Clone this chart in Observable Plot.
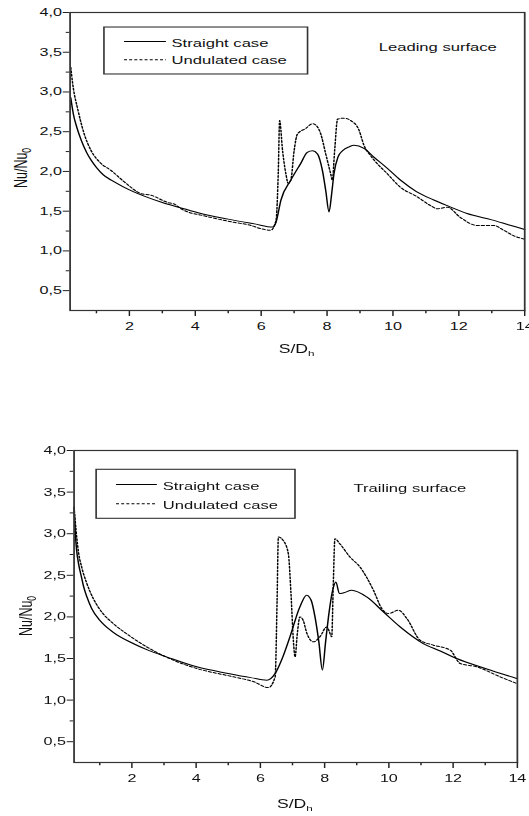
<!DOCTYPE html>
<html>
<head>
<meta charset="utf-8">
<script src="https://cdn.jsdelivr.net/npm/d3@7"></script>
<script src="https://cdn.jsdelivr.net/npm/@observablehq/plot@0.6"></script>
<style>
  html, body { margin: 0; padding: 0; background: #fff; overflow: hidden; }
  #wrap { position: relative; width: 360px; height: 816px; transform: scaleX(1.4694); transform-origin: 0 0; }
  #topPanel, #botPanel { position: absolute; left: 0; }
  #topPanel { top: 0; }
  #botPanel { top: 380px; }
  svg { overflow: visible; }
</style>
</head>
<body>
<div id="wrap"><div id="topPanel"></div><div id="botPanel"></div></div>
<script>
// ---- Leading surface (top panel) ----
const leadStraightX = [0.22,0.3,0.4,0.54,0.7,0.84,1.0,1.2,1.45,1.8,2.1,2.45,3.0,3.5,4.17,5.0,5.8,6.35,6.45,6.6,6.9,7.2,7.4,7.56,7.71,7.86,7.96,8.06,8.14,8.21,8.33,8.47,8.67,8.82,9.12,9.42,9.8,10.23,10.7,11.24,11.7,12.25,13.0,13.5,14.0];
const leadStraightY = [2.93,2.72,2.56,2.39,2.24,2.14,2.05,1.96,1.89,1.81,1.75,1.69,1.61,1.55,1.47,1.40,1.34,1.30,1.36,1.64,1.89,2.10,2.24,2.26,2.22,2.01,1.76,1.49,1.72,1.97,2.18,2.26,2.31,2.33,2.29,2.18,2.05,1.89,1.75,1.64,1.56,1.47,1.39,1.33,1.27];
const leadUndX = [0.22,0.28,0.44,0.63,0.84,1.14,1.45,1.84,2.36,2.66,3.16,3.36,3.57,3.77,4.17,4.7,5.17,5.69,5.99,6.29,6.45,6.52,6.56,6.65,6.75,6.82,6.9,7.0,7.1,7.35,7.56,7.71,7.81,7.96,8.11,8.16,8.23,8.32,8.52,8.72,8.97,9.12,9.32,9.83,10.23,10.74,11.14,11.35,11.65,12.05,12.56,13.06,13.36,13.67,13.97];
const leadUndY = [3.31,3.10,2.77,2.47,2.26,2.10,2.01,1.87,1.72,1.70,1.61,1.59,1.53,1.49,1.45,1.40,1.36,1.32,1.28,1.26,1.38,2.0,2.64,2.26,1.97,1.85,1.89,2.26,2.47,2.54,2.60,2.56,2.47,2.22,1.97,1.89,2.26,2.66,2.67,2.64,2.52,2.33,2.20,1.97,1.80,1.68,1.57,1.53,1.55,1.42,1.32,1.32,1.26,1.19,1.15];

// ---- Trailing surface (bottom panel) ----
const trailStraightX = [0.2,0.24,0.28,0.35,0.43,0.5,0.6,0.75,1.0,1.4,2.04,2.5,3.08,4.02,5.0,5.7,6.2,6.46,6.7,6.92,7.23,7.44,7.58,7.70,7.82,7.93,8.03,8.12,8.25,8.35,8.46,8.6,8.84,9.31,9.83,10.35,11.07,11.6,12.11,13.0,13.98];
const trailStraightY = [3.30,3.0,2.80,2.62,2.48,2.36,2.24,2.10,1.96,1.82,1.68,1.60,1.52,1.40,1.32,1.27,1.24,1.32,1.52,1.76,2.12,2.26,2.20,2.0,1.70,1.36,1.70,2.0,2.32,2.42,2.28,2.29,2.32,2.24,2.06,1.88,1.68,1.59,1.50,1.38,1.26];
const trailUndX = [0.2,0.26,0.33,0.45,0.59,0.69,0.9,1.1,1.42,1.9,2.46,3.29,4.02,5.16,5.8,6.25,6.46,6.52,6.56,6.71,6.87,6.95,7.03,7.08,7.15,7.23,7.33,7.45,7.65,7.85,8.07,8.15,8.22,8.27,8.32,8.47,8.79,9.10,9.52,9.78,9.98,10.30,10.56,10.97,11.39,11.91,12.22,12.74,13.46,13.98];
const trailUndY = [3.32,3.05,2.80,2.58,2.41,2.31,2.15,2.04,1.92,1.78,1.64,1.48,1.38,1.28,1.22,1.15,1.28,2.2,2.96,2.92,2.76,2.3,1.7,1.52,1.80,2.0,1.96,1.80,1.70,1.76,1.88,1.82,1.76,2.4,2.94,2.88,2.72,2.60,2.32,2.10,2.04,2.08,1.98,1.72,1.66,1.60,1.44,1.40,1.28,1.20];

// ---- ticks & labels ----
const xMajorTicks = [2, 4, 6, 8, 10, 12, 14];
const xMinorTicks = [1, 3, 5, 7, 9, 11, 13];
const yMajorTicks = [0.5, 1.0, 1.5, 2.0, 2.5, 3.0, 3.5, 4.0];
const yMinorTicks = [0.75, 1.25, 1.75, 2.25, 2.75, 3.25, 3.75];
const seriesNames = ["Straight case", "Undulated case"];
const panelTitles = ["Leading surface", "Trailing surface"];

const zip = (xs, ys) => xs.map((x, i) => ({x, y: ys[i]}));
const fmt = d => d.toFixed(1).replace(".", ",");
const FONT = "Arial, 'Liberation Sans', Helvetica, sans-serif";
const DASH = "2,1.5";

function panel(opts) {
  const {straight, undulated, title, m, leg, titlePos, height} = opts;
  return Plot.plot({
    width: 360,
    height,
    marginLeft: m.left, marginRight: m.right, marginTop: m.top, marginBottom: m.bottom,
    x: {domain: [0.2, 14]},
    y: {domain: [0.25, 4]},
    style: {fontFamily: FONT, fontSize: "11px", color: "#111", background: "white"},
    marks: [
      Plot.axisY(yMajorTicks, {tickSize: 4.5, tickPadding: 1, tickFormat: fmt, label: null, fontSize: 11, stroke: "#222"}),
      Plot.axisY(yMinorTicks, {tickSize: 2.5, tickFormat: () => "", label: null, stroke: "#222"}),
      Plot.axisX(xMajorTicks, {tickSize: 6, tickPadding: 5.5, tickFormat: d => String(d), label: null, fontSize: 11, stroke: "#222"}),
      Plot.axisX(xMinorTicks, {tickSize: 3.3, tickFormat: () => "", label: null, stroke: "#222"}),
      Plot.line(straight, {x: "x", y: "y", curve: "monotone-x", stroke: "#000", strokeWidth: 1}),
      Plot.line(undulated, {x: "x", y: "y", curve: "monotone-x", stroke: "#000", strokeWidth: 1, strokeDasharray: DASH}),
      Plot.rect([0], {x1: leg.x1, x2: leg.x2, y1: leg.y1, y2: leg.y2, fill: "white", stroke: "#333", strokeWidth: 1.1}),
      Plot.ruleY([leg.ly[0]], {x1: leg.lx1, x2: leg.lx2, stroke: "#000", strokeWidth: 1}),
      Plot.ruleY([leg.ly[1]], {x1: leg.lx1, x2: leg.lx2, stroke: "#000", strokeWidth: 1, strokeDasharray: DASH}),
      Plot.text(seriesNames, {x: leg.tx, y: (d, i) => leg.ty[i], text: d => d, textAnchor: "start", lineAnchor: "bottom", fontSize: 11.3, fill: "#111"}),
      Plot.text([title], {x: titlePos.x, y: titlePos.y, text: d => d, textAnchor: "start", lineAnchor: "bottom", fontSize: 11.3, fill: "#111"}),
      Plot.frame({stroke: "#333", strokeWidth: 1.2})
    ]
  });
}

function addLabels(svg, xl, yl) {
  const s = d3.select(svg);
  const tx = s.append("text")
    .attr("x", xl.x).attr("y", xl.y)
    .attr("text-anchor", "middle")
    .attr("font-family", FONT).attr("font-size", 12).attr("fill", "#111");
  tx.append("tspan").text("S/D");
  tx.append("tspan").attr("font-size", 8).attr("dy", 3).text("h");
  const g = s.append("g").attr("transform", `translate(${yl.x},${yl.y}) rotate(-90)`);
  const ty = g.append("text")
    .attr("text-anchor", "middle")
    .attr("font-family", FONT).attr("font-size", 12.5).attr("fill", "#111");
  ty.append("tspan").text("Nu/Nu");
  ty.append("tspan").attr("font-size", 8.5).attr("dy", 3).text("0");
}

const topSvg = panel({
  straight: zip(leadStraightX, leadStraightY),
  undulated: zip(leadUndX, leadUndY),
  title: panelTitles[0],
  height: 380,
  m: {left: 47.2, right: 3.4, top: 12, bottom: 70},
  leg: {x1: 1.25, x2: 7.43, y1: 3.22, y2: 3.811, lx1: 1.86, lx2: 3.13, ly: [3.635, 3.405], tx: 3.28, ty: [3.572, 3.346]},
  titlePos: {x: 9.57, y: 3.516}
});
addLabels(topSvg, {x: 201.9, y: 353}, {x: 18.2, y: 168});
document.getElementById("topPanel").appendChild(topSvg);

const botSvg = panel({
  straight: zip(trailStraightX, trailStraightY),
  undulated: zip(trailUndX, trailUndY),
  title: panelTitles[1],
  height: 436,
  m: {left: 49.9, right: 8.4, top: 70, bottom: 54},
  leg: {x1: 0.91, x2: 7.10, y1: 3.179, y2: 3.768, lx1: 1.53, lx2: 2.80, ly: [3.591, 3.359], tx: 2.96, ty: [3.531, 3.299]},
  titlePos: {x: 8.90, y: 3.507}
});
addLabels(botSvg, {x: 200.7, y: 428.3}, {x: 21.6, y: 236});
document.getElementById("botPanel").appendChild(botSvg);
</script>
</body>
</html>
